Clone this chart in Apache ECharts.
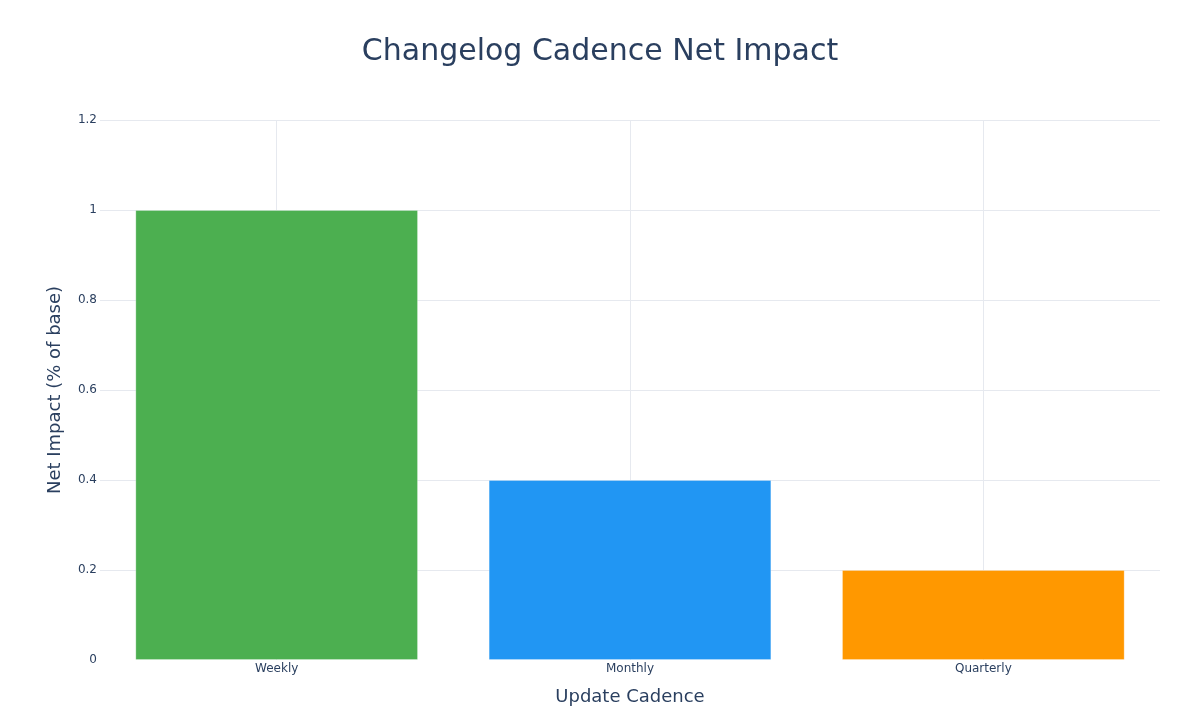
<!DOCTYPE html>
<html lang="en">
<head>
    <meta charset="UTF-8">
    <title>Changelog Cadence Net Impact</title>
    <script src="https://cdn.jsdelivr.net/npm/echarts@6/dist/echarts.min.js"></script>
    <style type="text/css">
        html, body { margin: 0; padding: 0; background: #fff; }
        #chart { width: 1200px; height: 720px; }
    </style>
</head>
<body>
<div id="chart"></div>
<script>
    // data
    var cadences = ['Weekly', 'Monthly', 'Quarterly'];
    var netImpact = [1.0, 0.4, 0.2];
    var barColors = ['#4CAF50', '#2196F3', '#FF9800'];

    var textColor = '#2a3f5f';
    var gridColor = '#e6e9ef';
    var font = '"DejaVu Sans", verdana, arial, sans-serif';

    var chart = echarts.init(document.getElementById('chart'));

    var option = {
        backgroundColor: '#fff',
        textStyle: { fontFamily: font },
        title: {
            text: 'Changelog Cadence Net Impact',
            left: 'center',
            top: 32,
            textStyle: { fontFamily: font, fontSize: 30, fontWeight: 'normal', color: textColor }
        },
        grid: { left: 100, right: 40, top: 120, bottom: 60 },
        xAxis: {
            type: 'category',
            data: cadences,
            name: 'Update Cadence',
            nameLocation: 'middle',
            nameGap: 28,
            nameTextStyle: { fontFamily: font, fontSize: 18, color: textColor },
            axisLine: { show: false },
            axisTick: { show: false, alignWithLabel: true },
            axisLabel: { fontFamily: font, fontSize: 12, color: textColor, margin: 3 },
            splitLine: { show: true, alignWithLabel: true, lineStyle: { color: gridColor, width: 1 } }
        },
        yAxis: {
            type: 'value',
            min: 0,
            max: 1.2,
            interval: 0.2,
            name: 'Net Impact (% of base)',
            nameLocation: 'middle',
            nameGap: 36,
            nameTextStyle: { fontFamily: font, fontSize: 18, color: textColor },
            axisLine: { show: false },
            axisTick: { show: false },
            axisLabel: { fontFamily: font, fontSize: 12, color: textColor, margin: 3 },
            splitLine: { show: true, showMinLine: false, lineStyle: { color: gridColor, width: 1 } }
        },
        series: [{
            type: 'bar',
            barCategoryGap: '20%',
            data: netImpact.map(function (v, i) {
                return {
                    value: v,
                    itemStyle: { color: barColors[i], borderColor: 'rgba(255,255,255,0.25)', borderWidth: 1 }
                };
            })
        }]
    };

    chart.setOption(option);
</script>
</body>
</html>
